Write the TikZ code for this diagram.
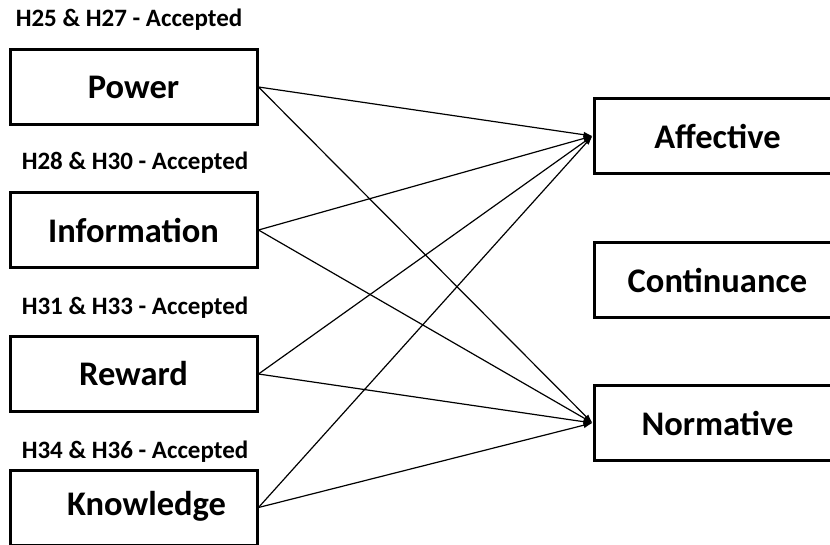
\documentclass[tikz,border=0pt]{standalone}
\usepackage{fontspec}
\setmainfont{Carlito}
\usetikzlibrary{arrows.meta}

\tikzset{
  construct/.style={draw, line width=3pt, minimum width=247pt, minimum height=75pt,
    inner sep=0pt, font=\fontsize{34.5}{38}\selectfont\bfseries},
  hyp/.style={font=\fontsize{25}{28}\selectfont\bfseries},
  path/.style={line width=1.2pt, -{Latex[length=9pt,width=6pt]}}
}

\begin{document}
\begin{tikzpicture}[x=1pt, y=-1pt]
  \useasboundingbox (0,0) rectangle (830,544);

  % power bases on the left
  \node[hyp] (h1) at (129,20) {H25 \& H27 - Accepted};
  \node[construct] (power) at (133.5,87) {Power};
  \node[hyp] (h2) at (135,163) {H28 \& H30 - Accepted};
  \node[construct] (info) at (133.5,230) {Information};
  \node[hyp] (h3) at (135,308) {H31 \& H33 - Accepted};
  \node[construct] (reward) at (133.5,374) {Reward};
  \node[hyp] (h4) at (135,452) {H34 \& H36 - Accepted};
  \node[construct] (know) at (133.5,507.5) {};
  \node[font=\fontsize{34.5}{38}\selectfont\bfseries] (knowtext) at ([xshift=13pt,yshift=1pt]know.center) {Knowledge};

  % commitment on the right
  \node[construct] (aff) at (717.5,136) {Affective};
  \node[construct] (cont) at (717.5,280) {Continuance};
  \node[construct] (norm) at (717.5,423) {Normative};

  \foreach \src in {power,info,reward,know}{
    \draw[path] (\src.east) -- (aff.west);
    \draw[path] (\src.east) -- (norm.west);
  }
\end{tikzpicture}
\end{document}
